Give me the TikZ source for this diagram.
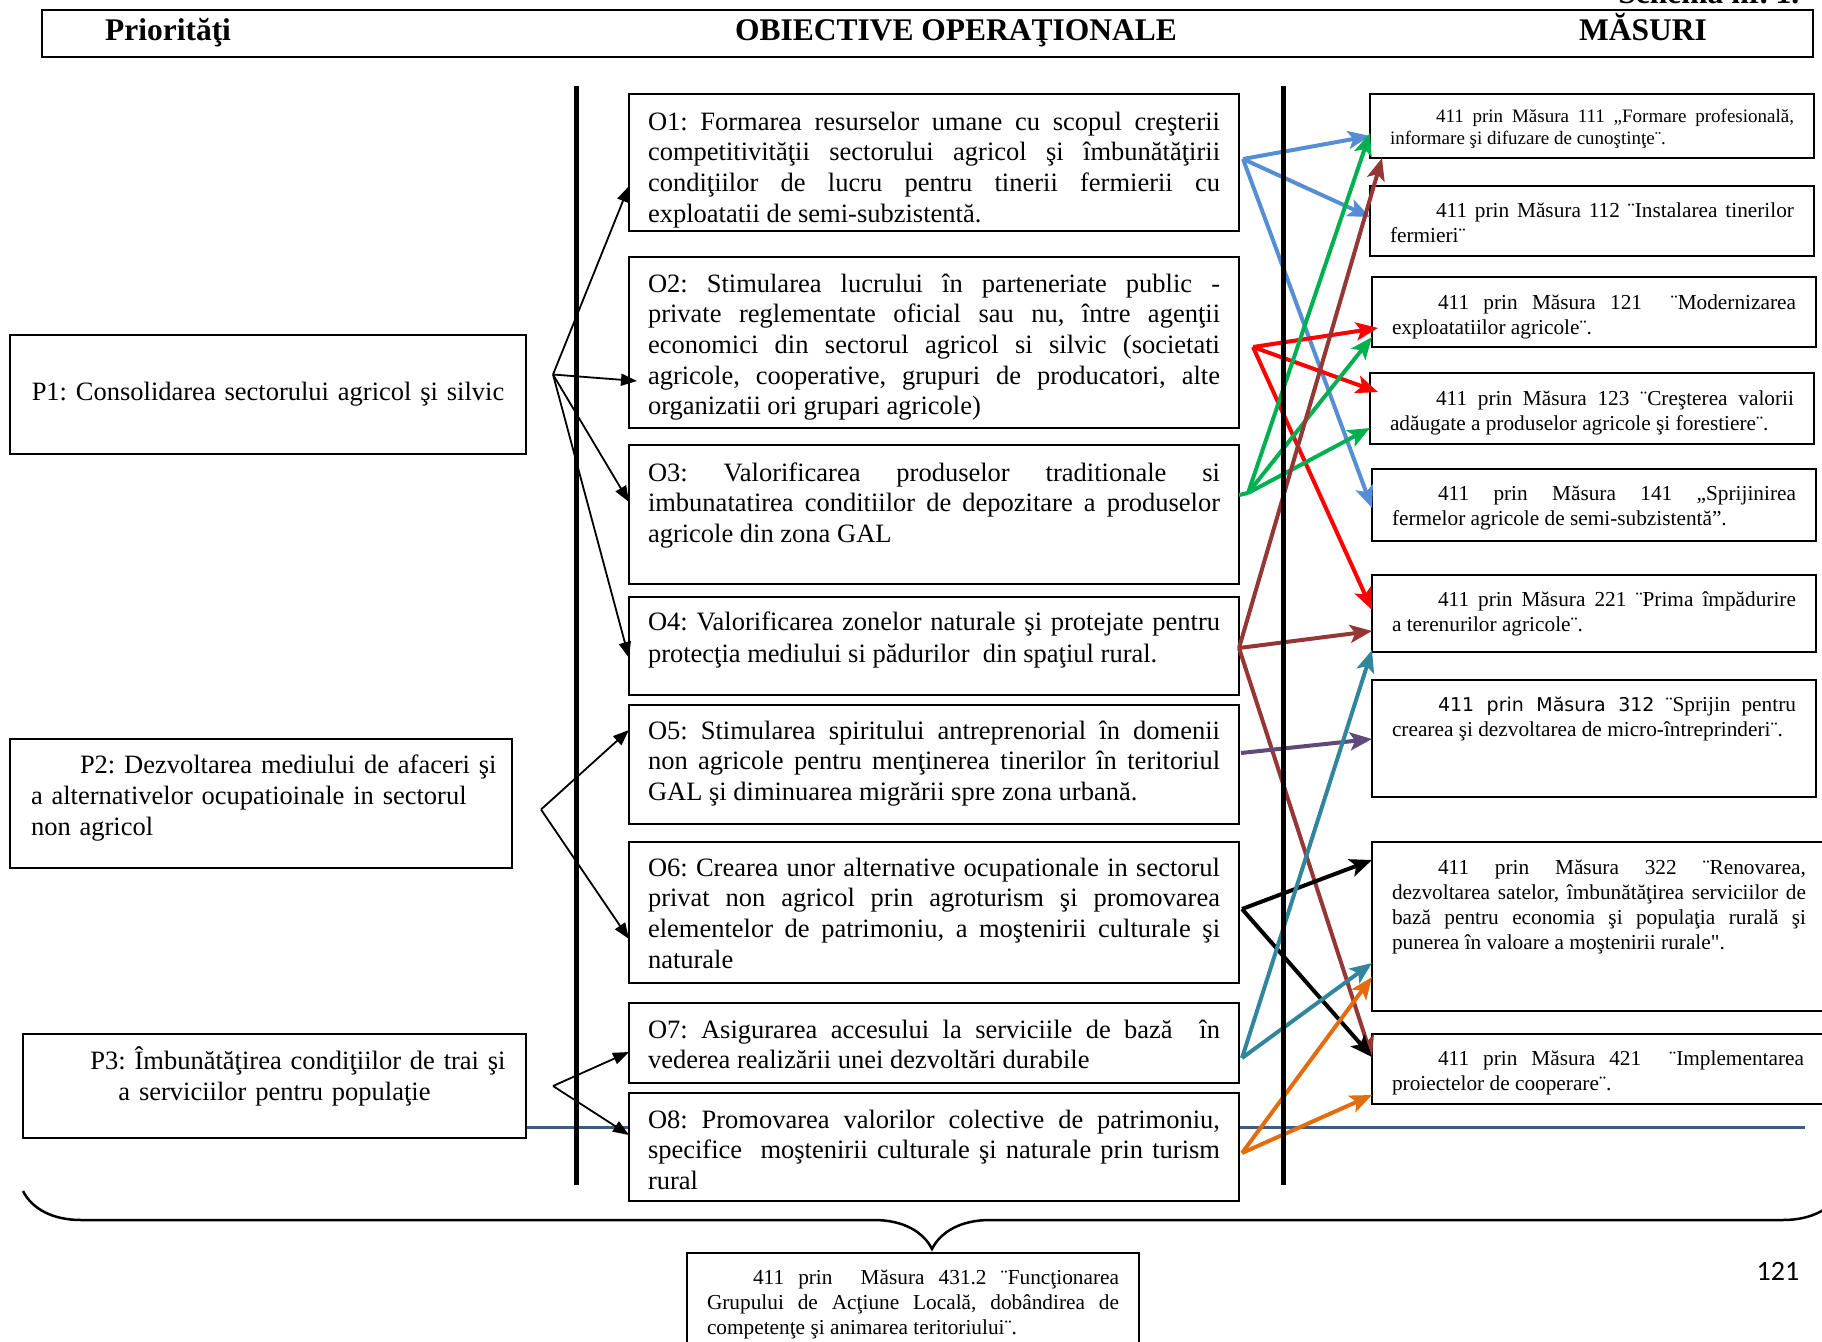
\documentclass[tikz,border=0pt]{standalone}
\usepackage{fontspec}
\setmainfont{Liberation Serif}
\newfontfamily\sansf{DejaVu Sans}
\newfontfamily\numf{Carlito}
\usepackage{tikz}
\usetikzlibrary{arrows.meta,decorations.pathreplacing}

\definecolor{arrblue}{RGB}{85,142,213}
\definecolor{arrgreen}{RGB}{0,176,80}
\definecolor{arrbrown}{RGB}{149,55,53}
\definecolor{arrpurple}{RGB}{96,74,123}
\definecolor{arrteal}{RGB}{49,133,156}
\definecolor{arrorange}{RGB}{228,108,10}
\definecolor{lineblue}{RGB}{56,93,138}

\tolerance=10000
\hyphenpenalty=10000
\exhyphenpenalty=10000
\frenchspacing

\begin{document}
\begin{tikzpicture}[x=1pt,y=-1pt,
                line width=1.5pt,
                hfont/.style={inner sep=0pt,font=\fontsize{31.5}{36}\selectfont\bfseries},
                pbox/.style={draw,anchor=north west,inner xsep=10pt,inner ysep=0pt,outer sep=0pt,fill=white,
                  font=\fontsize{26.5}{31}\selectfont},
                obox/.style={draw,anchor=north west,inner xsep=19pt,inner ysep=0pt,outer sep=0pt,fill=white,
                  text width=572pt,align=justify,font=\fontsize{26.5}{30.7}\selectfont},
                mbox/.style={draw,anchor=north west,inner xsep=20pt,inner ysep=0pt,outer sep=0pt,fill=white,
                  text width=404pt,align=justify,font=\fontsize{21.3}{25}\selectfont},
                pto/.style={-{Triangle[length=16pt,width=12pt]},line width=1.8pt},
                otm/.style={-{Stealth[length=22pt,width=18pt,inset=5pt]},line width=4pt}]

\useasboundingbox (0,0) rectangle (1822,1341);

% header
\node[draw,line width=2.5pt,anchor=north west,minimum width=1771pt,minimum height=47pt,inner sep=0pt,outer sep=0pt] (head) at (42,10) {};
\node[hfont,anchor=base] (hprio) at (168,40) {Priorităţi};
\node[hfont,anchor=base] (hobj) at (956,40) {OBIECTIVE OPERAŢIONALE};
\node[hfont,anchor=base] (hmas) at (1643,40) {MĂSURI};
\node[hfont,anchor=base east] (schema) at (1800,4) {Schema nr. 1.};

% line under P3 / O8
\draw[lineblue,line width=3pt] (526,1127) -- (1805,1127);

%%%%%%%%%%%%%%%%%%%%%%%%%%%%%%%%%%%%%%%%%%%%%%%%%%%%%%%%%%%%%%%%%%%%%%%%%%%%%%%%%%%%
% prioritati
\node[pbox,text width=496pt,align=center,text height=65pt,text depth=54pt] (P1) at (10,335)
  {P1: Consolidarea sectorului agricol şi silvic};
\node[pbox,inner xsep=21pt,text width=460pt,align=left,text height=34pt,text depth=95pt] (P2) at (10,739)
  {\hspace*{49pt}\mbox{P2: Dezvoltarea mediului de afaceri şi}\\a alternativelor ocupatioinale in sectorul\\non agricol};
\node[pbox,text width=483pt,align=center,text height=35pt,text depth=69pt] (P3) at (23,1034)
  {\hspace*{47pt}P3: Îmbunătăţirea condiţiilor de trai şi\\a serviciilor pentru populaţie};

%%%%%%%%%%%%%%%%%%%%%%%%%%%%%%%%%%%%%%%%%%%%%%%%%%%%%%%%%%%%%%%%%%%%%%%%%%%%%%%%%%%%
% obiective
\node[obox,text height=36pt,text depth=101pt] (O1) at (629,94)
  {O1: Formarea resurselor umane cu scopul creşterii\linebreak competitivităţii sectorului agricol şi îmbunătăţirii\linebreak condiţiilor de lucru pentru tinerii fermierii cu\linebreak exploatatii de semi-subzistentă.};
\node[obox,text height=35pt,text depth=136pt] (O2) at (629,257)
  {O2: Stimularea lucrului în parteneriate public -\linebreak privat{e} reglementate oficial sau nu, între agenţii\linebreak economici din sectorul agricol si silvic (societati\linebreak agricole, cooperative, grupuri de producatori, alte\linebreak organizatii ori grupari agricole)};
\node[obox,text height=36pt,text depth=103pt] (O3) at (629,445)
  {O3: Valorificarea produselor traditionale si\linebreak imbunatatirea conditiilor de depozitare a produselor\linebreak agricole din zona GAL};
\node[obox,font=\fontsize{26.5}{32.5}\selectfont,text height=33pt,text depth=65pt] (O4) at (629,597)
  {O4: Valorificarea zonelor naturale şi protejate pentru\linebreak protecţia mediului si pădurilor \ din spaţiul rural.};
\node[obox,text height=34pt,text depth=85pt] (O5) at (629,705)
  {O5: Stimularea spiritului antreprenorial în domenii\linebreak non agricole pentru menţinerea tinerilor în teritoriul\linebreak GAL şi diminuarea migrării spre zona urbană.};
\node[obox,text height=34pt,text depth=107pt] (O6) at (629,842)
  {O6: Crearea unor alternative ocupationale in sectorul\linebreak privat non agricol prin agroturism şi promovarea\linebreak elementelor de patrimoniu, a moştenirii culturale şi\linebreak naturale};
\node[obox,text height=35pt,text depth=45pt] (O7) at (629,1003)
  {O7: Asigurarea accesului la serviciile de bază \ în\linebreak vederea realizării unei dezvoltări durabile};
\node[obox,text height=35pt,text depth=73pt] (O8) at (629,1093)
  {O8: Promovarea valorilor colective de patrimoniu,\linebreak specifice \ moştenirii culturale şi naturale prin turism\linebreak rural};

%%%%%%%%%%%%%%%%%%%%%%%%%%%%%%%%%%%%%%%%%%%%%%%%%%%%%%%%%%%%%%%%%%%%%%%%%%%%%%%%%%%%
% masuri
\node[mbox,font=\fontsize{19}{22.3}\selectfont,text height=28pt,text depth=36pt] (M111) at (1370,94)
  {\hspace*{46pt}411 prin Măsura 111 „Formare profesională,\linebreak informare şi difuzare de cunoştinţe¨.};
\node[mbox,text height=31pt,text depth=39pt] (M112) at (1370,186)
  {\hspace*{46pt}411 prin Măsura 112 ¨Instalarea tinerilor\linebreak fermieri¨};
\node[mbox,text height=32pt,text depth=38pt] (M121) at (1372,277)
  {\hspace*{46pt}411 prin Măsura 121 \ ¨Modernizarea\linebreak exploatatiilor agricole¨.};
\node[mbox,text height=32pt,text depth=39pt] (M123) at (1370,373)
  {\hspace*{46pt}411 prin Măsura 123 ¨Creşterea valorii\linebreak adăugate a produselor agricole şi forestiere¨.};
\node[mbox,text height=31pt,text depth=41pt] (M141) at (1372,469)
  {\hspace*{46pt}411 prin Măsura 141 „Sprijinirea\linebreak fermelor agricole de semi-subzistentă”.};
\node[mbox,text height=31pt,text depth=46pt] (M221) at (1372,575)
  {\hspace*{46pt}411 prin Măsura 221 ¨Prima împădurire\linebreak a terenurilor agricole¨.};
\node[mbox,text height=31pt,text depth=86pt] (M312) at (1372,680)
  {\hspace*{46pt}{\sansf\fontsize{19}{25}\selectfont 411 prin Măsura 312} ¨Sprijin pentru\linebreak crearea şi dezvoltarea de micro-întreprinderi¨.};
\node[mbox,text width=414pt,text height=32pt,text depth=137pt] (M322) at (1372,842)
  {\hspace*{46pt}411 prin Măsura 322 ¨Renovarea,\linebreak dezvoltarea satelor, îmbunătăţirea serviciilor de\linebreak bază pentru economia şi populaţia rurală şi\linebreak punerea în valoare a moştenirii rurale\textquotedbl.};
\node[mbox,text width=412pt,text height=31pt,text depth=39pt] (M421) at (1372,1034)
  {\hspace*{46pt}411 prin Măsura 421 \ ¨Implementarea\linebreak proiectelor de cooperare¨.};
\node[mbox,text width=412pt,text height=31pt,text depth=72pt] (M431) at (687,1253)
  {\hspace*{46pt}411 prin \ Măsura 431.2 ¨Funcţionarea\linebreak Grupului de Acţiune Locală, dobândirea de\linebreak competenţe şi animarea teritoriului¨.};

%%%%%%%%%%%%%%%%%%%%%%%%%%%%%%%%%%%%%%%%%%%%%%%%%%%%%%%%%%%%%%%%%%%%%%%%%%%%%%%%%%%%
% prioritati -> obiective
\coordinate (p1fan) at ([xshift=27pt,yshift=20pt]P1.east);
\coordinate (p2fan) at ([xshift=29pt,yshift=-6pt]P2.east);
\coordinate (p3fan) at ([xshift=27pt]P3.east);

\draw[pto] (p1fan) -- ([yshift=-92pt]O1.north west);
\draw[pto] (p1fan) -- ([xshift=8pt,yshift=-124pt]O2.north west);
\draw[pto] (p1fan) -- ([yshift=-57pt]O3.north west);
\draw[pto] (p1fan) -- ([yshift=-61pt]O4.north west);

\draw[pto] (p2fan) -- ([yshift=-25pt]O5.north west);
\draw[pto] (p2fan) -- ([yshift=-97pt]O6.north west);

\draw[pto] (p3fan) -- ([yshift=-49pt]O7.north west);
\draw[pto] (p3fan) -- ([yshift=-42pt]O8.north west);

% obiective -> masuri
\coordinate (o1out) at ([xshift=4pt,yshift=-65pt]O1.north east);
\coordinate (o2out) at ([xshift=14pt,yshift=-90pt]O2.north east);
\coordinate (o3out) at ([xshift=9pt,yshift=-48pt]O3.north east);
\coordinate (o4out) at ([yshift=-51pt]O4.north east);
\coordinate (o5out) at ([xshift=2pt,yshift=-48pt]O5.north east);
\coordinate (o6out) at ([xshift=3pt,yshift=-67pt]O6.north east);
\coordinate (o7out) at ([xshift=3pt,yshift=-55pt]O7.north east);
\coordinate (o8out) at ([xshift=3pt,yshift=-60pt]O8.north east);

% 1
\draw[otm,arrblue] (o1out) -- ([yshift=-42pt]M111.north west);
\draw[otm,arrblue] (o1out) -- ([yshift=-31pt]M112.north west);
\draw[otm,arrblue] (o1out) -- ([yshift=-39pt]M141.north west);
% 2
\draw[otm,red] (o2out) -- ([xshift=6pt,yshift=-51pt]M121.north west);
\draw[otm,red] (o2out) -- ([xshift=8pt,yshift=-19pt]M123.north west);
\draw[otm,red] (o2out) -- ([yshift=-35pt]M221.north west);
% 3
\draw[arrgreen,line width=4pt] ([yshift=-50pt]O3.north east) -- (o3out);
\draw[otm,arrgreen] (o3out) -- ([yshift=-39pt]M111.north west);
\draw[otm,arrgreen] (o3out) -- ([yshift=-60pt]M121.north west);
\draw[otm,arrgreen] (o3out) -- ([yshift=-55pt]M123.north west);
% 4
\draw[otm,arrbrown] (o4out) -- ([xshift=12pt]M111.south west);
\draw[otm,arrbrown] (o4out) -- ([yshift=-56pt]M221.north west);
\draw[otm,arrbrown] (o4out) -- ([yshift=-24pt]M421.north west);
% 5
\draw[otm,arrpurple] (o5out) -- ([yshift=-59pt]M312.north west);
% 6
\draw[otm,black] (o6out) -- ([yshift=-18pt]M322.north west);
\draw[otm,black] (o6out) -- ([yshift=-23pt]M421.north west);
% 7
\draw[otm,arrteal] (o7out) -- ([yshift=-75pt]M221.north west);
\draw[otm,arrteal] (o7out) -- ([yshift=-121pt]M322.north west);
% 8
\draw[otm,arrorange] (o8out) -- ([yshift=-135pt]M322.north west);
\draw[otm,arrorange] (o8out) -- ([yshift=-61pt]M421.north west);

% separators
\draw[line width=5pt] (576,86) -- (576,1185);
\draw[line width=5pt] (1283,86) -- (1283,1185);

% brace over 431.2
\draw[decorate,decoration={brace,mirror,amplitude=58pt},line width=2.5pt] (23,1191) -- (1841,1191);

\node[font=\numf\fontsize{28}{32}\selectfont,anchor=base,inner sep=0pt] (pnum) at (1778,1280) {121};

\end{tikzpicture}
\end{document}
